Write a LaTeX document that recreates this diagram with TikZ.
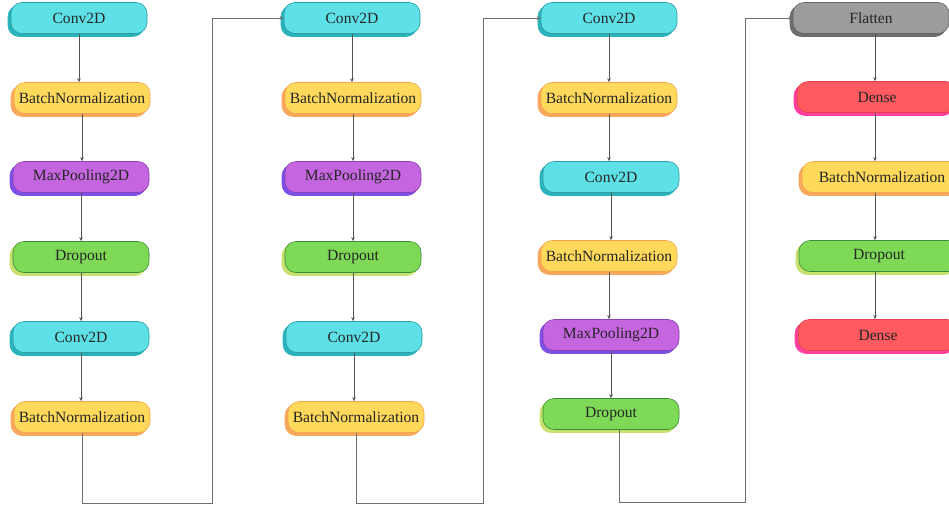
\documentclass[tikz,border=0pt]{standalone}
\usepackage{fontspec}
\setmainfont{Liberation Serif}
\usetikzlibrary{shadows,arrows.meta}

% layer colours: fill, outline, offset copy
\definecolor{convfill}{HTML}{5DE0E6}
\definecolor{convline}{HTML}{2A9DA5}
\definecolor{convshade}{HTML}{2BB3BC}
\definecolor{bnfill}{HTML}{FFD95C}
\definecolor{bnline}{HTML}{F2A650}
\definecolor{bnshade}{HTML}{F8A85C}
\definecolor{poolfill}{HTML}{C566E0}
\definecolor{poolline}{HTML}{8A40B8}
\definecolor{poolshade}{HTML}{7C50E6}
\definecolor{dropfill}{HTML}{7ED957}
\definecolor{dropline}{HTML}{3C8A3C}
\definecolor{dropshade}{HTML}{C6E26C}
\definecolor{flatfill}{HTML}{9C9C9C}
\definecolor{flatline}{HTML}{666666}
\definecolor{flatshade}{HTML}{6E6E6E}
\definecolor{densefill}{HTML}{FF5A5F}
\definecolor{denseline}{HTML}{E0404E}
\definecolor{denseshade}{HTML}{FF40A0}
\definecolor{wire}{HTML}{555555}
\definecolor{loopwire}{HTML}{707070}

\tikzset{
  layer/.style={rounded corners=11pt, minimum width=136pt, minimum height=31pt,
    inner sep=0pt, line width=0.6pt, text=black!85,
    font=\fontsize{15.6}{18}\selectfont},
  wide/.style={minimum width=160pt},
  shade/.style={copy shadow={shadow xshift=-3pt, shadow yshift=-3pt,
    fill=#1, draw=#1}},
  conv/.style={layer, fill=convfill, draw=convline, shade=convshade},
  bn/.style={layer, fill=bnfill, draw=bnline, shade=bnshade},
  pool/.style={layer, fill=poolfill, draw=poolline, shade=poolshade},
  drop/.style={layer, fill=dropfill, draw=dropline, shade=dropshade},
  flat/.style={layer, fill=flatfill, draw=flatline, shade=flatshade},
  dense/.style={layer, fill=densefill, draw=denseline, shade=denseshade},
  flow/.style={draw=wire, line width=0.7pt, -{Stealth[length=4pt,width=3.5pt]}},
  hop/.style={draw=loopwire, line width=1pt, -{Stealth[length=4pt,width=3.5pt]}},
}

\begin{document}
\begin{tikzpicture}[x=1pt, y=-1pt]
\useasboundingbox (0,0) rectangle (949,509);

% first block
\node[conv] (a1) at (79,18)  {Conv2D};
\node[bn]   (a2) at (82,98)  {BatchNormalization};
\node[pool] (a3) at (81,177) {MaxPooling2D};
\node[drop] (a4) at (81,257) {Dropout};
\node[conv] (a5) at (81,337) {Conv2D};
\node[bn]   (a6) at (82,417) {BatchNormalization};

% second block
\node[conv] (b1) at (352,18)  {Conv2D};
\node[bn]   (b2) at (353,98)  {BatchNormalization};
\node[pool] (b3) at (353,177) {MaxPooling2D};
\node[drop] (b4) at (353,257) {Dropout};
\node[conv] (b5) at (354,337) {Conv2D};
\node[bn]   (b6) at (356,417) {BatchNormalization};

% third block
\node[conv] (c1) at (609,18)  {Conv2D};
\node[bn]   (c2) at (609,98)  {BatchNormalization};
\node[conv] (c3) at (611,177) {Conv2D};
\node[bn]   (c4) at (609,256) {BatchNormalization};
\node[pool] (c5) at (611,335) {MaxPooling2D};
\node[drop] (c6) at (611,414) {Dropout};

% classifier head
\node[flat, minimum width=156pt] (d1) at (871,18) {Flatten};
\node[dense, wide] (d2) at (877,97)  {Dense};
\node[bn, wide]    (d3) at (882,177) {BatchNormalization};
\node[drop, wide]  (d4) at (879,256) {Dropout};
\node[dense, wide] (d5) at (878,335) {Dense};

% turning points of the links between blocks
\coordinate (t1) at (212,503);
\coordinate (t2) at (483,503);
\coordinate (t3) at (745,502);

% straight links inside each block
\foreach \p/\q in {a1/a2,a2/a3,a3/a4,a4/a5,a5/a6,
                   b1/b2,b2/b3,b3/b4,b4/b5,b5/b6,
                   c1/c2,c2/c3,c3/c4,c4/c5,c5/c6}
  \draw[flow] (\p.south) -- (\p.south |- \q.north);
\foreach \p/\q in {d1/d2,d2/d3,d3/d4,d4/d5}
  \draw[flow] (875,0 |- \p.south) -- (875,0 |- \q.north);

% links from one block to the next
\draw[hop] (a6.south) |- (t1) |- (b1.west);
\draw[hop] (b6.south) |- (t2) |- (c1.west);
\draw[hop] ([xshift=8pt]c6.south) |- (t3) |- (d1.west);
\end{tikzpicture}
\end{document}
